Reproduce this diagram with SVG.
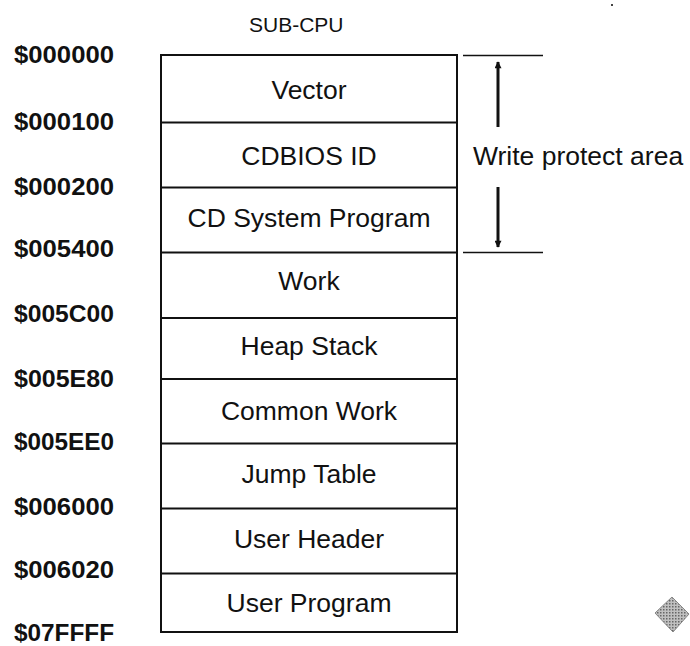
<svg xmlns="http://www.w3.org/2000/svg" width="690" height="646" viewBox="0 0 690 646">
<style>
.addr{font-family:"Liberation Sans",Arial,sans-serif;font-weight:bold;font-size:24px;fill:#111}
.lbl{font-family:"Liberation Sans",Arial,sans-serif;font-size:26.5px;fill:#111;text-anchor:middle}
.box{fill:#fff;stroke:#111;stroke-width:2}
.sep{stroke:#111;stroke-width:2}
.wp{stroke:#111;stroke-width:1.6}
</style>
<defs>
<marker id="ah" viewBox="0 0 10 10" refX="9" refY="5" markerWidth="10" markerHeight="7" markerUnits="userSpaceOnUse" orient="auto">
<path d="M0,0 L10,5 L0,10 z" fill="#111"/>
</marker>
<pattern id="dots" width="3" height="3" patternUnits="userSpaceOnUse">
<rect width="3" height="3" fill="#c0c0c0"/>
<rect width="1.5" height="1.5" fill="#666"/>
</pattern>
</defs>
<text x="249" y="32" font-family="Liberation Sans,Arial,sans-serif" font-size="21" fill="#111">SUB-CPU</text>
<g id="addresses">
<text class="addr" x="14" y="63" textLength="100" lengthAdjust="spacingAndGlyphs">$000000</text>
<text class="addr" x="14" y="130" textLength="100" lengthAdjust="spacingAndGlyphs">$000100</text>
<text class="addr" x="14" y="195" textLength="100" lengthAdjust="spacingAndGlyphs">$000200</text>
<text class="addr" x="14" y="257" textLength="100" lengthAdjust="spacingAndGlyphs">$005400</text>
<text class="addr" x="14" y="322" textLength="100" lengthAdjust="spacingAndGlyphs">$005C00</text>
<text class="addr" x="14" y="387" textLength="100" lengthAdjust="spacingAndGlyphs">$005E80</text>
<text class="addr" x="14" y="450" textLength="100" lengthAdjust="spacingAndGlyphs">$005EE0</text>
<text class="addr" x="14" y="515" textLength="100" lengthAdjust="spacingAndGlyphs">$006000</text>
<text class="addr" x="14" y="578" textLength="100" lengthAdjust="spacingAndGlyphs">$006020</text>
<text class="addr" x="14" y="641" textLength="100" lengthAdjust="spacingAndGlyphs">$07FFFF</text>
</g>
<g id="memory-map">
<rect class="box" x="161" y="55" width="296" height="577"/>
<line class="sep" x1="161" y1="122.5" x2="457" y2="122.5"/>
<line class="sep" x1="161" y1="187.5" x2="457" y2="187.5"/>
<line class="sep" x1="161" y1="252.5" x2="457" y2="252.5"/>
<line class="sep" x1="161" y1="318" x2="457" y2="318"/>
<line class="sep" x1="161" y1="379" x2="457" y2="379"/>
<line class="sep" x1="161" y1="443.5" x2="457" y2="443.5"/>
<line class="sep" x1="161" y1="508.5" x2="457" y2="508.5"/>
<line class="sep" x1="161" y1="573.5" x2="457" y2="573.5"/>
</g>
<g id="vector"><text class="lbl" x="309" y="99">Vector</text></g>
<g id="cdbios-id"><text class="lbl" x="309" y="165">CDBIOS ID</text></g>
<g id="cd-system-program"><text class="lbl" x="309" y="227">CD System Program</text></g>
<g id="work"><text class="lbl" x="309" y="290">Work</text></g>
<g id="heap-stack"><text class="lbl" x="309" y="355">Heap Stack</text></g>
<g id="common-work"><text class="lbl" x="309" y="420">Common Work</text></g>
<g id="jump-table"><text class="lbl" x="309" y="483">Jump Table</text></g>
<g id="user-header"><text class="lbl" x="309" y="548">User Header</text></g>
<g id="user-program"><text class="lbl" x="309" y="612">User Program</text></g>
<g id="write-protect">
<line class="wp" x1="463" y1="55.5" x2="543" y2="55.5"/>
<line class="wp" x1="463" y1="252.5" x2="543" y2="252.5"/>
<text x="473" y="165" font-family="Liberation Sans,Arial,sans-serif" font-size="26.5" fill="#111">Write protect area</text>
</g>
<g id="connectors">
<line x1="498" y1="127" x2="498" y2="62" stroke="#111" stroke-width="3" marker-end="url(#ah)"/>
<line x1="498" y1="187" x2="498" y2="247" stroke="#111" stroke-width="3" marker-end="url(#ah)"/>
</g>
<polygon points="655,613 672,597 689,614 673,632" fill="url(#dots)" stroke="#888" stroke-width="1"/>
<rect x="611" y="4" width="2" height="2" fill="#444"/>
</svg>
